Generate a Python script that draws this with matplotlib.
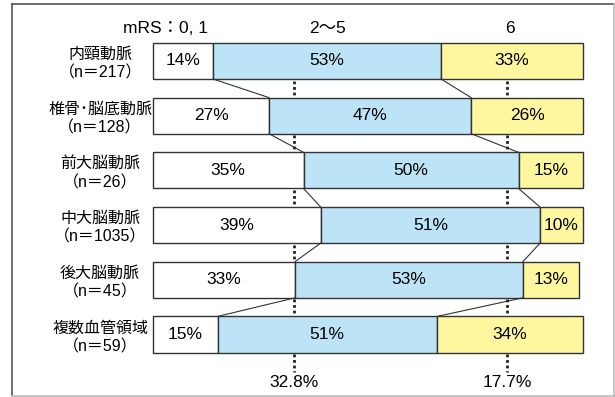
import matplotlib.pyplot as plt
from matplotlib.lines import Line2D

plt.rcParams['font.family'] = ['Liberation Sans', 'Noto Sans CJK JP', 'DejaVu Sans']

# 部位別の転帰 (mRS)
sites = ['内頸動脈', '椎骨･脳底動脈', '前大脳動脈', '中大脳動脈', '後大脳動脈', '複数血管領域']
counts = ['217', '128', '26', '1035', '45', '59']
mrs_01 = [14, 27, 35, 39, 33, 15]
mrs_25 = [53, 47, 50, 51, 53, 51]
mrs_6 = [33, 26, 15, 10, 13, 34]
groups = ['mRS：0, 1', '2～5', '6']
overall_01 = 32.8
overall_6 = 17.7

W, H = 615, 397
fig = plt.figure(figsize=(W / 100, H / 100), dpi=100)
ax = fig.add_axes([0, 0, 1, 1])
# x: percent of the bar, y: row index (row spacing 54.7 px)
px = 4.3
row = 54.7
ax.set_xlim(-153 / px, (W - 153) / px)
ax.set_ylim((H - 61) / row, -61 / row)
ax.axis('off')

bh = 0.66
edge = '#333333'
blue = '#bde3f6'
yellow = '#fff6a0'
fs = 12.5
fl = 11.5

for i in range(len(sites)):
    a, b, c = mrs_01[i], mrs_25[i], mrs_6[i]
    ax.barh(i, a, left=0, height=bh, color='white', edgecolor=edge, linewidth=1.0)
    ax.barh(i, b, left=a, height=bh, color=blue, edgecolor=edge, linewidth=1.0)
    ax.barh(i, c, left=a + b, height=bh, color=yellow, edgecolor=edge, linewidth=1.0)
    ax.text(a / 2, i, f'{a}%', ha='center', va='center', fontsize=fs)
    ax.text(a + b / 2, i, f'{b}%', ha='center', va='center', fontsize=fs)
    ax.text(a + b + c / 2, i, f'{c}%', ha='center', va='center', fontsize=fs)
    ax.text(-12.3, i - 0.12, sites[i], ha='center', va='center', fontsize=fl)
    ax.text(-12.3, i + 0.22, f'（n＝{counts[i]}）', ha='center', va='center', fontsize=fl)

    # connectors to the next row's boundaries
    if i < len(sites) - 1:
        y0, y1 = i + bh / 2, i + 1 - bh / 2
        ax.plot([a, mrs_01[i + 1]], [y0, y1], color=edge, lw=0.8)
        ax.plot([a + b, mrs_01[i + 1] + mrs_25[i + 1]], [y0, y1], color=edge, lw=0.8)
        for xv in (overall_01, 100 - overall_6):
            ax.plot([xv, xv], [y0 + 0.03, y1 - 0.03], color='#222222', lw=2,
                    linestyle=(0, (1, 1)))

# dotted leaders below the last row
yb = len(sites) - 1 + bh / 2
for xv in (overall_01, 100 - overall_6):
    ax.plot([xv, xv], [yb + 0.03, yb + 0.36], color='#222222', lw=2,
            linestyle=(0, (1, 1)))
ax.text(overall_01, yb + 0.54, f'{overall_01}%', ha='center', va='center', fontsize=fs)
ax.text(100 - overall_6, yb + 0.54, f'{overall_6}%', ha='center', va='center', fontsize=fs)

# column headers
ax.text(3.0, -0.6, groups[0], ha='center', va='center', fontsize=fs)
ax.text(40.6, -0.6, groups[1], ha='center', va='center', fontsize=fs)
ax.text(83.0, -0.6, groups[2], ha='center', va='center', fontsize=fs)

# outer frame
fig.add_artist(Line2D([12 / W, 12 / W], [1 - 396 / H, 1 - 4 / H], color='#555555', lw=1.2))
fig.add_artist(Line2D([12 / W, 614 / W], [1 - 4 / H, 1 - 4 / H], color='#555555', lw=1.2))
fig.add_artist(Line2D([614 / W, 614 / W], [1 - 396 / H, 1 - 4 / H], color='#bbbbbb', lw=1.2))
fig.add_artist(Line2D([12 / W, 614 / W], [1 - 396 / H, 1 - 396 / H], color='#bbbbbb', lw=1.2))

fig.savefig('out.png', dpi=100)
